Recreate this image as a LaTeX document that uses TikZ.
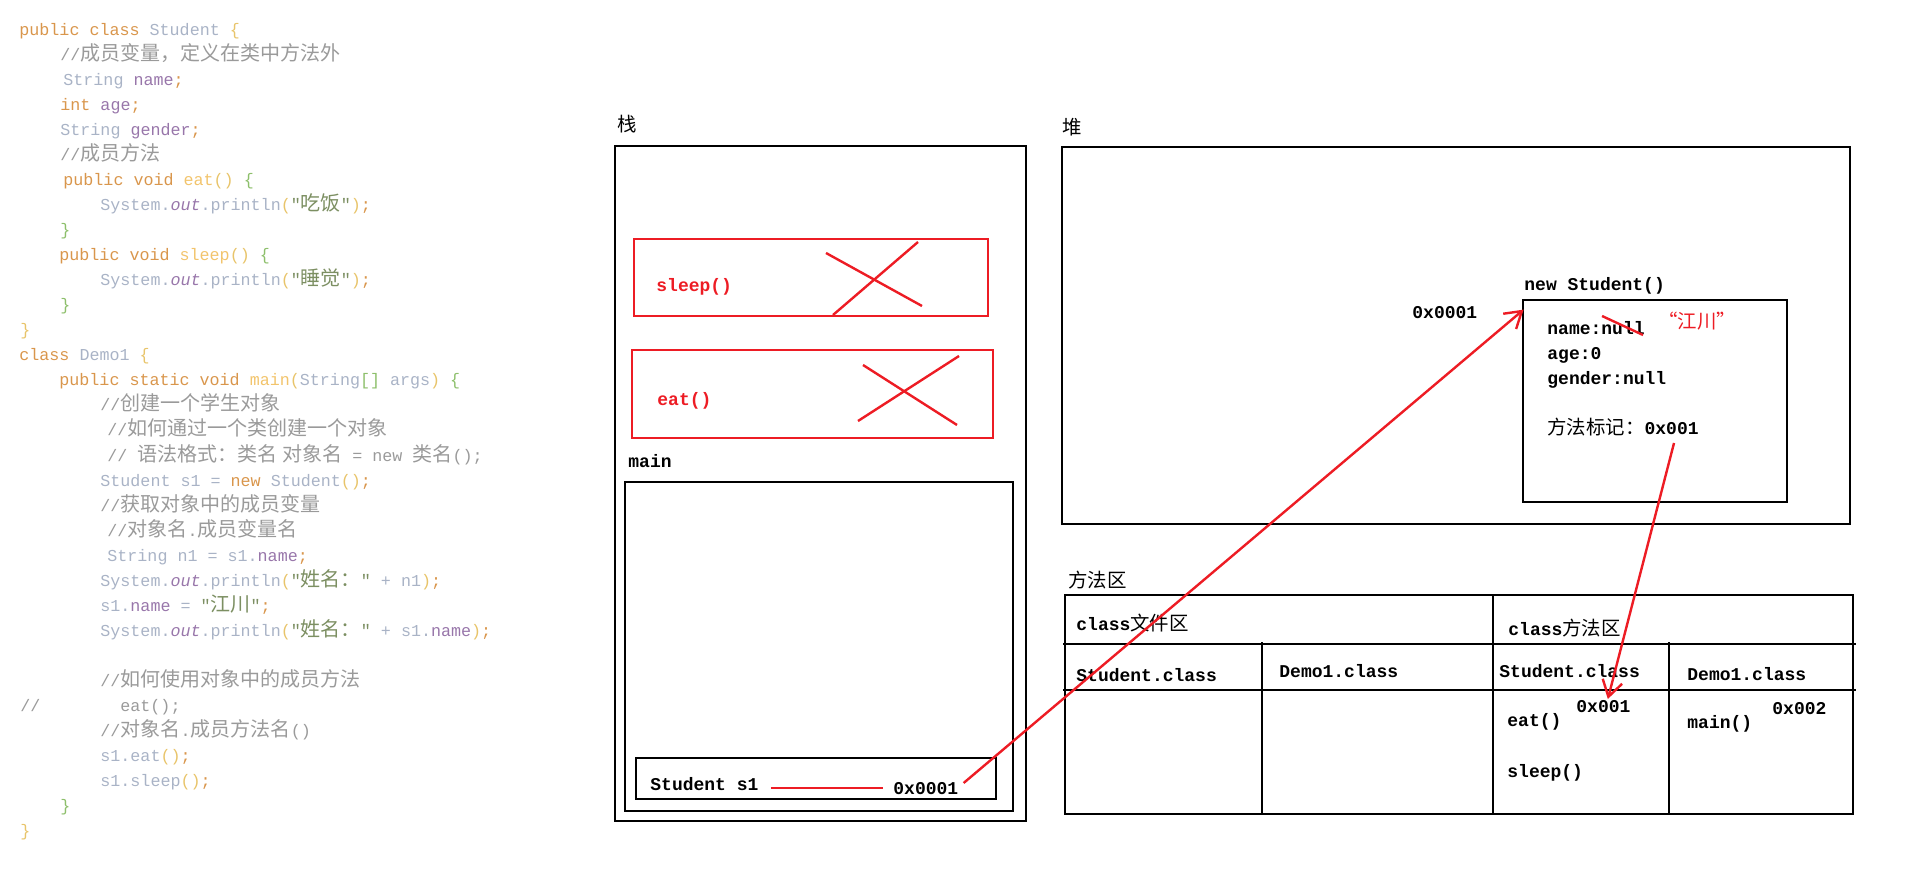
\documentclass[tikz,border=0pt]{standalone}
\usepackage{fontspec}
\usepackage{xcolor}
\usepackage{tikz}
\usetikzlibrary{arrows.meta,positioning,calc,fit}

\newfontfamily\codefont{Liberation Mono}
\newfontfamily\labelfont{Liberation Mono}
\newfontfamily\zhcode[Scale=1.2]{Noto Sans CJK SC}
\newfontfamily\zhlbl[Scale=1.08]{Noto Sans CJK SC}

\definecolor{pred}{HTML}{ED1C24}
\definecolor{ckw}{HTML}{D9964C}
\definecolor{cpl}{HTML}{A9B3C6}
\definecolor{cfd}{HTML}{9876AA}
\definecolor{cfn}{HTML}{F2C46C}
\definecolor{cst}{HTML}{7C8F62}
\definecolor{ccm}{HTML}{9A9A9A}
\definecolor{cpa}{HTML}{E8C46A}
\definecolor{cbg}{HTML}{8DBF6B}

\newcommand{\codef}{\codefont\fontsize{8.35pt}{10pt}\selectfont}
\newcommand{\lblf}{\labelfont\bfseries\fontsize{9pt}{11pt}\selectfont}
\newcommand{\Zh}[1]{{\zhcode #1}}
\newcommand{\Zl}[1]{{\mdseries\zhlbl #1}}
\newcommand{\Kw}[1]{\textcolor{ckw}{#1}}
\newcommand{\Fd}[1]{\textcolor{cfd}{#1}}
\newcommand{\Fn}[1]{\textcolor{cfn}{#1}}
\newcommand{\Str}[1]{\textcolor{cst}{#1}}
\newcommand{\Cmt}[1]{\textcolor{ccm}{#1}}
\newcommand{\Pa}[1]{\textcolor{cpa}{#1}}
\newcommand{\Bg}[1]{\textcolor{cbg}{#1}}

\tikzset{
  >={Straight Barb[length=8pt,width=10pt]},
  boxline/.style={draw, line width=1.4pt, inner sep=0pt},
  redbox/.style ={draw=pred, line width=1.4pt, inner sep=0pt},
  cell/.style   ={draw, line width=1.4pt},
  redln/.style  ={draw=pred, line width=1.2pt},
  refarr/.style ={->, draw=pred, line width=1.2pt},
  lbl/.style    ={anchor=base west, inner sep=0pt, font=\lblf},
  src/.style    ={anchor=base west, inner sep=0pt, font=\codef, text=cpl},
}

\begin{document}
\begin{tikzpicture}[x=0.5pt, y=-0.5pt]
\useasboundingbox (0,0) rectangle (1914,881);

% source code
\node[src] (c0)  at (19,36)   {\Kw{public class} Student \Pa{\{}};
\node[src] (c1)  at (60,61)   {\Cmt{//\Zh{成员变量，定义在类中方法外}}};
\node[src] (c2)  at (63,86)   {String \Fd{name}\Kw{;}};
\node[src] (c3)  at (60,111)  {\Kw{int} \Fd{age}\Kw{;}};
\node[src] (c4)  at (60,136)  {String \Fd{gender}\Kw{;}};
\node[src] (c5)  at (60,161)  {\Cmt{//\Zh{成员方法}}};
\node[src] (c6)  at (63,186)  {\Kw{public void} \Fn{eat}\Pa{()} \Bg{\{}};
\node[src] (c7)  at (100,211) {System.\Fd{\textit{out}}.println\Pa{(}\Str{"\Zh{吃饭}"}\Pa{)}\Kw{;}};
\node[src] (c8)  at (60,236)  {\Bg{\}}};
\node[src] (c9)  at (59,261)  {\Kw{public void} \Fn{sleep}\Pa{()} \Bg{\{}};
\node[src] (c10) at (100,286) {System.\Fd{\textit{out}}.println\Pa{(}\Str{"\Zh{睡觉}"}\Pa{)}\Kw{;}};
\node[src] (c11) at (60,311)  {\Bg{\}}};
\node[src] (c12) at (20,336)  {\Pa{\}}};
\node[src] (c13) at (19,361)  {\Kw{class} Demo1 \Pa{\{}};
\node[src] (c14) at (59,386)  {\Kw{public static void} \Fn{main}\Pa{(}String\Bg{[]} args\Pa{)} \Bg{\{}};
\node[src] (c15) at (100,411) {\Cmt{//\Zh{创建一个学生对象}}};
\node[src] (c16) at (107,436) {\Cmt{//\Zh{如何通过一个类创建一个对象}}};
\node[src] (c17) at (107,461) {\Cmt{// \Zh{语法格式：类名 对象名} = new \Zh{类名}();}};
\node[src] (c18) at (100,486) {Student s1 = \Kw{new} Student\Pa{()}\Kw{;}};
\node[src] (c19) at (100,511) {\Cmt{//\Zh{获取对象中的成员变量}}};
\node[src] (c20) at (107,536) {\Cmt{//\Zh{对象名}.\Zh{成员变量名}}};
\node[src] (c21) at (107,561) {String n1 = s1.\Fd{name}\Kw{;}};
\node[src] (c22) at (100,586) {System.\Fd{\textit{out}}.println\Pa{(}\Str{"\Zh{姓名：}"} + n1\Pa{)}\Kw{;}};
\node[src] (c23) at (100,611) {s1.\Fd{name} = \Str{"\Zh{江川}"}\Kw{;}};
\node[src] (c24) at (100,636) {System.\Fd{\textit{out}}.println\Pa{(}\Str{"\Zh{姓名：}"} + s1.\Fd{name}\Pa{)}\Kw{;}};
\node[src] (c26) at (100,686) {\Cmt{//\Zh{如何使用对象中的成员方法}}};
\node[src] (c27a) at (20,711) {\Cmt{//}};
\node[src] (c27b) at (120,711) {\Cmt{eat();}};
\node[src] (c28) at (100,736) {\Cmt{//\Zh{对象名}.\Zh{成员方法名}()}};
\node[src] (c29) at (100,761) {s1.eat\Pa{()}\Kw{;}};
\node[src] (c30) at (100,786) {s1.sleep\Pa{()}\Kw{;}};
\node[src] (c31) at (60,811)  {\Bg{\}}};
\node[src] (c32) at (20,836)  {\Pa{\}}};

% stack
\node[lbl] (stackT) at (617,132) {\Zl{栈}};
\node[boxline, fit={(615,146) (1026,821)}] (stack) {};
\node[redbox, fit={(634,239) (988,316)}] (sleepF) {};
\node[lbl, text=pred] (sleepT) at (656,292) {sleep()};
\draw[redln] (826,253) -- (922,306);
\draw[redln] (833,315) -- (918,242);
\node[redbox, fit={(632,350) (993,438)}] (eatF) {};
\node[lbl, text=pred] (eatT) at (657,406) {eat()};
\draw[redln] (863,365) -- (957,425);
\draw[redln] (858,421) -- (959,356);
\node[lbl] (mainT) at (628,467) {main};
\node[boxline, fit={(625,482) (1013,811)}] (mainF) {};
\node[boxline, fit={(636,758) (996,799)}] (varF) {};
\node[lbl] (svar)  at (650,790) {Student s1};
\node[lbl] (saddr) at (893,794) {0x0001};

% heap
\node[lbl] (heapT) at (1062,135) {\Zl{堆}};
\node[boxline, fit={(1062,147) (1850,524)}] (heap) {};
\node[lbl] (haddr) at (1412,319) {0x0001};
\node[lbl] (objT) at (1524,291) {new Student()};
\node[boxline, fit={(1523,300) (1787,502)}] (obj) {};
\node[lbl] (fName) at (1547,335) {name:null};
\node[lbl, text=pred] (newName) at (1658,329) {\Zl{“江川”}};
\node[lbl] (fAge) at (1547,360) {age:0};
\node[lbl] (fGender) at (1547,385) {gender:null};
\node[lbl] (mark) at (1547,435) {\Zl{方法标记：}0x001};
\draw[redln] ([shift={(-43,-19)}]fName.base east) -- ([shift={(-2,0)}]fName.base east);

% method area
\node[lbl] (areaT) at (1068,587) {\Zl{方法区}};
\node[boxline, fit={(1065,595) (1853,814)}] (area) {};
\draw[cell] (1063,644) -- (1856,644);
\draw[cell] (1063,690) -- (1856,690);
\draw[cell] (1262,642) -- (1262,814);
\draw[cell] (1493,595) -- (1493,814);
\draw[cell] (1669,642) -- (1669,814);
\node[lbl] (fileT) at (1076,630) {class\Zl{文件区}};
\node[lbl] (fStu)  at (1076,681) {Student.class};
\node[lbl] (fDemo) at (1279,677) {Demo1.class};
\node[lbl] (methT) at (1508,635) {class\Zl{方法区}};
\node[lbl] (mStu)  at (1499,677) {Student.class};
\node[lbl] (mDemo) at (1687,680) {Demo1.class};
\node[lbl] (maddr1) at (1576,712) {0x001};
\node[lbl] (mEat)   at (1507,726) {eat()};
\node[lbl] (mSleep) at (1507,777) {sleep()};
\node[lbl] (mMain)  at (1687,728) {main()};
\node[lbl] (maddr2) at (1772,714) {0x002};

% references
\draw[redln] ([shift={(12,-2)}]svar.base east) -- ([shift={(-10,-6)}]saddr.base west);
\draw[refarr] ([shift={(5,-11)}]saddr.base east) -- ([shift={(2,11)}]obj.north west);
\draw[refarr] ([shift={(-25,8)}]mark.base east) -- ([shift={(-23,-13)}]maddr1.base east);
\end{tikzpicture}
\end{document}
